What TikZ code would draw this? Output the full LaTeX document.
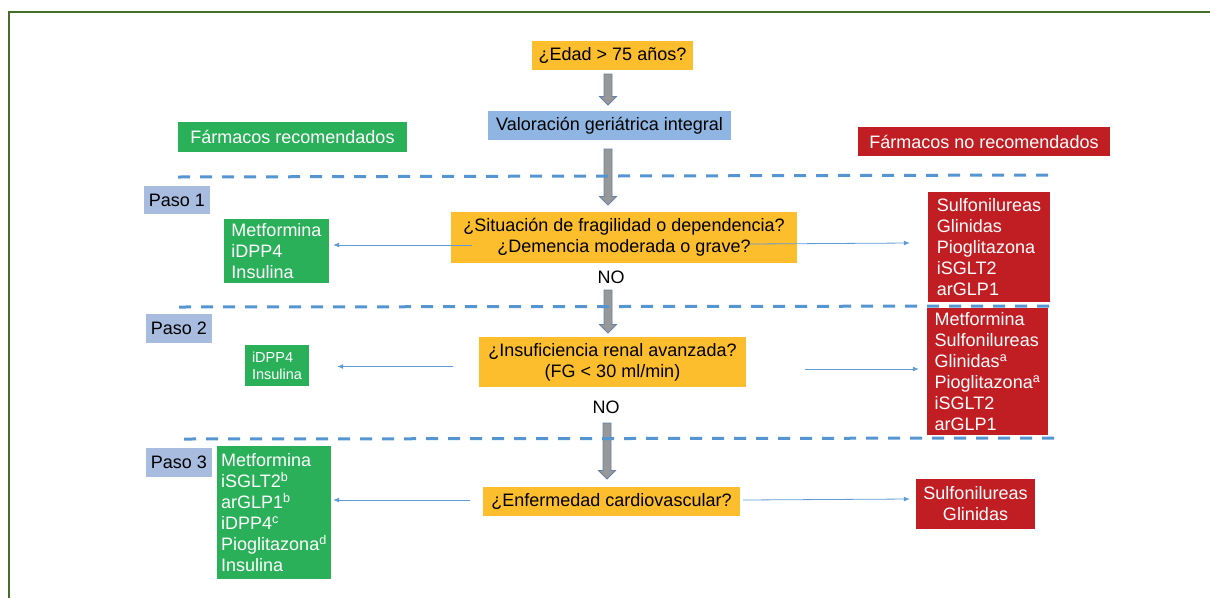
\documentclass[tikz,border=0pt]{standalone}
\usepackage{fontspec}
\setmainfont{Liberation Sans}
\usetikzlibrary{arrows.meta,calc}
\definecolor{qorange}{RGB}{252,190,45}
\definecolor{vblue}{RGB}{143,182,226}
\definecolor{rgreen}{RGB}{43,176,90}
\definecolor{nred}{RGB}{193,30,36}
\definecolor{pasoc}{RGB}{167,188,222}
\definecolor{dashc}{RGB}{85,150,210}
\definecolor{thinc}{RGB}{95,155,215}
\definecolor{arrfill}{RGB}{152,152,152}
\definecolor{arrline}{RGB}{100,130,170}
\definecolor{framec}{RGB}{70,110,40}
\newcommand\grayarrow[3]{%
  \draw[blockarrow] (#1-4,#2) -- (#1+4,#2) -- (#1+4,#3-8.5) -- (#1+8.5,#3-8.5) -- (#1,#3) -- (#1-8.5,#3-8.5) -- (#1-4,#3-8.5) -- cycle;}
\tikzset{
  box/.style={inner sep=0pt, font=\fontsize{18}{21}\selectfont},
  qbox/.style={box, fill=qorange, text=black, align=center},
  vbox/.style={box, fill=vblue, text=black},
  gbox/.style={box, fill=rgreen, text=white, align=left},
  rbox/.style={box, fill=nred, text=white, align=left},
  pbox/.style={box, fill=pasoc, text=black},
  nolabel/.style={inner sep=0pt, font=\fontsize{18}{21}\selectfont},
  sepline/.style={draw=dashc, line width=3pt, dash pattern=on 12pt off 10pt},
  thinarrow/.style={draw=thinc, line width=0.8pt, -{Latex[length=6pt,width=5pt]}},
  blockarrow/.style={fill=arrfill, draw=arrline, line width=0.8pt},
}
\begin{document}
\begin{tikzpicture}[x=1pt,y=-1pt]
\useasboundingbox (0,0) rectangle (1210,598);
% frame
\draw[framec, line width=1.5pt] (9,598) -- (9,12) -- (1210,12);

% top
\node[qbox, minimum width=161, minimum height=29] (edad) at (612.5,55.5) {¿Edad > 75 años?};
\node[vbox, minimum width=243, minimum height=29] (valor) at (609.5,125.5) {Valoración geriátrica integral};
\node[box, fill=rgreen, text=white, minimum width=229, minimum height=30] (recom) at (292.5,137) {Fármacos recomendados};
\node[box, fill=nred, text=white, minimum width=252, minimum height=29] (norecom) at (984,141.5) {Fármacos no recomendados};

% paso labels
\node[pbox, minimum width=66, minimum height=28] (paso1) at (177,200) {Paso 1};
\node[pbox, minimum width=66, minimum height=29] (paso2) at (179,328.5) {Paso 2};
\node[pbox, minimum width=66, minimum height=29] (paso3) at (179,462.5) {Paso 3};

% step 1
\node[qbox, minimum width=346, minimum height=51] (q1) at (624,237.5) {¿Situación de fragilidad o dependencia?\\¿Demencia moderada o grave?};
\node[gbox, minimum width=105, minimum height=64] (g1) at (276.5,251) {Metformina\\iDPP4\\Insulina};
\node[rbox, minimum width=122, minimum height=110] (r1) at (989,247) {Sulfonilureas\\Glinidas\\Pioglitazona\\iSGLT2\\arGLP1};
\node[nolabel] (no1) at (611,277) {NO};

% step 2
\node[qbox, minimum width=267, minimum height=50] (q2) at (612.5,362) {¿Insuficiencia renal avanzada?\\(FG < 30 ml/min)};
\node[gbox, minimum width=64, minimum height=41, font=\fontsize{14.5}{17}\selectfont] (g2) at (277,365.5) {iDPP4\\Insulina};
\node[rbox, minimum width=121, minimum height=127] (r2) at (987.5,371.5) {Metformina\\Sulfonilureas\\Glinidas\textsuperscript{a}\\Pioglitazona\textsuperscript{a}\\iSGLT2\\arGLP1};
\node[nolabel] (no2) at (606,407) {NO};

% step 3
\node[qbox, minimum width=257, minimum height=29] (q3) at (611.5,501.5) {¿Enfermedad cardiovascular?};
\node[gbox, minimum width=114, minimum height=133] (g3) at (274,512.5) {Metformina\\iSGLT2\textsuperscript{b}\\arGLP1\textsuperscript{b}\\iDPP4\textsuperscript{c}\\Pioglitazona\textsuperscript{d}\\Insulina};
\node[rbox, align=center, minimum width=119, minimum height=50] (r3) at (975.5,504) {Sulfonilureas\\Glinidas};

% gray block arrows
\grayarrow{608}{74}{105}
\grayarrow{608}{149}{205}
\grayarrow{608}{290}{333}
\grayarrow{607}{423}{479}

% dashed separators
\draw[sepline] (178,177) -- (1055,175);
\draw[sepline] (179,307) -- (1055,306);
\draw[sepline] (184,439) -- (1061,438);

% thin arrows
\coordinate (s1l) at (472,245);
\coordinate (s1r) at (750,244);
\coordinate (s2l) at (453,366.5);
\coordinate (s2r) at (805,369);
\coordinate (s3l) at (470,500);
\coordinate (s3r) at (743,500);
\draw[thinarrow] (s1l) -- ($(s1l -| g1.east)+(4,0)$);
\draw[thinarrow] (s1r) -- ($(s1r -| r1.west)+(-18,-1)$);
\draw[thinarrow] (s2l) -- ($(s2l -| g2.east)+(28,0)$);
\draw[thinarrow] (s2r) -- ($(s2r -| r2.west)+(-8,0)$);
\draw[thinarrow] (s3l) -- ($(s3l -| g3.east)+(2,0)$);
\draw[thinarrow] (s3r) -- ($(s3r -| r3.west)+(-6,-1)$);
\end{tikzpicture}
\end{document}
